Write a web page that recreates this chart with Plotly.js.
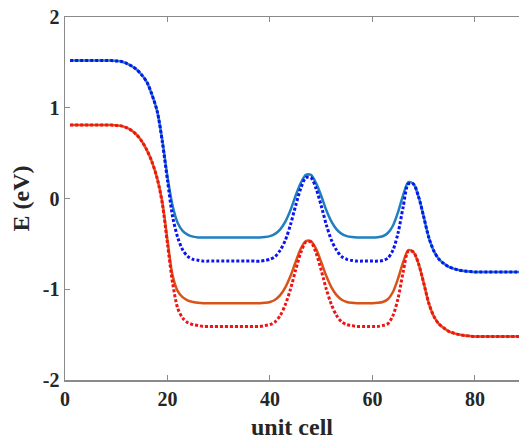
<!DOCTYPE html>
<html>
<head>
<meta charset="utf-8">
<script src="https://cdn.plot.ly/plotly-3.0.1.min.js"></script>
<style>html,body{margin:0;padding:0;background:#fff;}#chart{width:519px;height:440px;}</style>
</head>
<body>
<div id="chart"></div>
<script>
var unitCell = [1,2,3,4,5,6,7,8,9,10,11,12,13,14,15,16,17,18,19,20,21,22,23,24,25,26,27,28,29,30,31,32,33,34,35,36,37,38,39,40,41,42,43,44,45,46,47,48,49,50,51,52,53,54,55,56,57,58,59,60,61,62,63,64,65,66,67,68,69,70,71,72,73,74,75,76,77,78,79,80,81,82,83,84,85,86,87,88,89];

var blueSolid = [1.52,1.52,1.52,1.52,1.52,1.52,1.52,1.52,1.52,1.515,
1.51,1.49,1.46,1.42,1.36,1.28,1.14,0.96,0.64,0.24,
-0.08,-0.27,-0.36,-0.40,-0.42,-0.43,-0.43,-0.43,-0.43,-0.43,
-0.43,-0.43,-0.43,-0.43,-0.43,-0.43,-0.43,-0.43,-0.425,-0.415,
-0.39,-0.34,-0.255,-0.13,0.03,0.17,0.26,0.26,0.17,0.03,
-0.13,-0.255,-0.34,-0.39,-0.415,-0.425,-0.43,-0.43,-0.43,-0.43,
-0.427,-0.416,-0.38,-0.30,-0.15,0.04,0.18,0.16,0.02,-0.20,
-0.43,-0.58,-0.67,-0.72,-0.755,-0.775,-0.79,-0.80,-0.805,-0.81,
-0.81,-0.81,-0.81,-0.81,-0.81,-0.81,-0.81,-0.81,-0.81];

var blueDotted = [1.52,1.52,1.52,1.52,1.52,1.52,1.52,1.52,1.52,1.515,
1.51,1.49,1.46,1.42,1.36,1.28,1.14,0.96,0.62,0.20,
-0.20,-0.43,-0.57,-0.64,-0.67,-0.68,-0.69,-0.69,-0.69,-0.69,
-0.69,-0.69,-0.69,-0.69,-0.69,-0.69,-0.69,-0.69,-0.683,-0.67,
-0.64,-0.57,-0.46,-0.29,-0.08,0.11,0.23,0.23,0.11,-0.08,
-0.29,-0.46,-0.57,-0.64,-0.67,-0.683,-0.69,-0.69,-0.69,-0.69,
-0.69,-0.684,-0.658,-0.57,-0.38,-0.09,0.16,0.16,0.02,-0.20,
-0.43,-0.58,-0.67,-0.72,-0.755,-0.775,-0.79,-0.80,-0.805,-0.81,
-0.81,-0.81,-0.81,-0.81,-0.81,-0.81,-0.81,-0.81,-0.81];

var orangeSolid = [0.81,0.81,0.81,0.81,0.81,0.81,0.81,0.81,0.81,0.805,
0.80,0.78,0.75,0.70,0.63,0.53,0.40,0.22,-0.04,-0.46,
-0.85,-1.02,-1.09,-1.125,-1.14,-1.15,-1.155,-1.155,-1.155,-1.155,
-1.155,-1.155,-1.155,-1.155,-1.155,-1.155,-1.155,-1.155,-1.15,-1.14,
-1.115,-1.065,-0.98,-0.855,-0.70,-0.555,-0.47,-0.47,-0.555,-0.70,
-0.855,-0.98,-1.065,-1.115,-1.14,-1.15,-1.155,-1.155,-1.155,-1.155,
-1.15,-1.14,-1.11,-1.03,-0.88,-0.70,-0.57,-0.59,-0.72,-0.93,
-1.155,-1.30,-1.385,-1.43,-1.467,-1.486,-1.50,-1.51,-1.515,-1.52,
-1.52,-1.52,-1.52,-1.52,-1.52,-1.52,-1.52,-1.52,-1.52];

var redDotted = [0.81,0.81,0.81,0.81,0.81,0.81,0.81,0.81,0.81,0.805,
0.80,0.78,0.75,0.70,0.63,0.53,0.40,0.22,-0.06,-0.50,
-0.93,-1.21,-1.32,-1.37,-1.39,-1.40,-1.41,-1.41,-1.41,-1.41,
-1.41,-1.41,-1.41,-1.41,-1.41,-1.41,-1.41,-1.41,-1.40,-1.39,
-1.36,-1.29,-1.17,-1.00,-0.79,-0.60,-0.48,-0.48,-0.60,-0.79,
-1.00,-1.17,-1.29,-1.36,-1.39,-1.40,-1.41,-1.41,-1.41,-1.41,
-1.41,-1.40,-1.38,-1.29,-1.10,-0.81,-0.58,-0.59,-0.72,-0.93,
-1.155,-1.30,-1.385,-1.43,-1.467,-1.486,-1.50,-1.51,-1.515,-1.52,
-1.52,-1.52,-1.52,-1.52,-1.52,-1.52,-1.52,-1.52,-1.52];

var xTickVals = [0,20,40,60,80];
var xTickText = ["0","20","40","60","80"];
var yTickVals = [-2,-1,0,1,2];
var yTickText = ["-2","-1","0","1","2"];

var fontFam = '"Liberation Serif", "Times New Roman", serif';

function tr(y, color, width, dash) {
  return {x: unitCell, y: y, type: 'scatter', mode: 'lines',
    line: {color: color, width: width, dash: dash, shape: 'spline', smoothing: 0.8},
    hoverinfo: 'skip', showlegend: false};
}

var data = [
  tr(blueSolid, '#1f7fc0', 2.5, 'solid'),
  tr(orangeSolid, '#d95319', 2.5, 'solid'),
  tr(blueDotted, '#0a14f0', 3, '3px,2px'),
  tr(redDotted, '#f01414', 3, '3px,2px')
];

var axisCommon = {
  showgrid: false, zeroline: false, showline: true,
  linecolor: '#8a8a8a', linewidth: 1.5,
  ticks: 'inside', ticklen: 5, tickwidth: 1, tickcolor: '#8a8a8a',
  tickfont: {family: fontFam, size: 20, color: '#262626', weight: 'bold'}
};

var layout = {
  width: 519, height: 440,
  margin: {l: 65, r: 0, t: 17, b: 60},
  paper_bgcolor: '#ffffff', plot_bgcolor: '#ffffff',
  xaxis: Object.assign({}, axisCommon, {
    range: [0, 88.6], tickmode: 'array', tickvals: xTickVals, ticktext: xTickText,
    mirror: 'ticks',
    title: {text: 'unit cell', font: {family: fontFam, size: 24, color: '#262626', weight: 'bold'}, standoff: 12}
  }),
  yaxis: Object.assign({}, axisCommon, {
    range: [-2, 2], tickmode: 'array', tickvals: yTickVals, ticktext: yTickText,
    mirror: false,
    title: {text: 'E (eV)', font: {family: fontFam, size: 24, color: '#262626', weight: 'bold'}, standoff: 6}
  })
};

Plotly.newPlot('chart', data, layout, {displayModeBar: false, staticPlot: true});
</script>
</body>
</html>
